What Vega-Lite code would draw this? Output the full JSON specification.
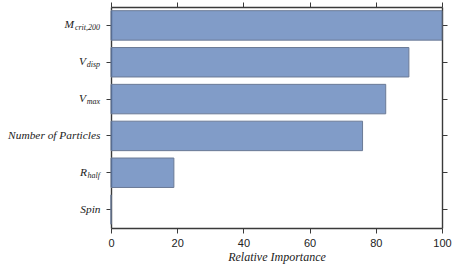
{
  "$schema": "https://vega.github.io/schema/vega-lite/v6.json",
  "autosize": "none",
  "width": 331,
  "height": 221,
  "padding": {"left": 111, "top": 7, "right": 16, "bottom": 45},
  "background": "white",
  "data": {
    "values": [
      {"feature": "Mcrit,200", "main": "M", "sub": "crit,200", "importance": 100},
      {"feature": "Vdisp", "main": "V", "sub": "disp", "importance": 90},
      {"feature": "Vmax", "main": "V", "sub": "max", "importance": 83},
      {"feature": "Number of Particles", "main": "Number of Particles", "sub": "", "importance": 76},
      {"feature": "Rhalf", "main": "R", "sub": "half", "importance": 19},
      {"feature": "Spin", "main": "Spin", "sub": "", "importance": 0}
    ]
  },
  "config": {
    "view": {"stroke": null},
    "axis": {
      "grid": false,
      "domainColor": "#3a3a3a",
      "domainWidth": 1.4,
      "tickColor": "#3a3a3a",
      "tickWidth": 1,
      "tickSize": 5
    }
  },
  "layer": [
    {
      "mark": {"type": "bar", "fill": "#4C72B0", "fillOpacity": 0.7, "stroke": "#6b7a96", "strokeWidth": 1},
      "encoding": {
        "x": {
          "field": "importance", "type": "quantitative",
          "scale": {"domain": [0, 100], "nice": false},
          "axis": {
            "orient": "bottom", "values": [0, 20, 40, 60, 80, 100],
            "title": "Relative Importance",
            "titleFont": "Liberation Serif", "titleFontStyle": "italic", "titleFontWeight": "normal",
            "titleFontSize": 12, "titleColor": "#222", "titlePadding": 3,
            "labelFont": "Liberation Sans", "labelFontSize": 11, "labelColor": "#222", "labelPadding": 4,
            "labelFlush": false
          }
        },
        "y": {
          "field": "feature", "type": "nominal", "sort": null,
          "scale": {"paddingInner": 0.2, "paddingOuter": 0.1},
          "axis": {
            "orient": "left", "title": null,
            "labelFont": "Liberation Serif", "labelFontStyle": "italic", "labelFontSize": 11.4,
            "labelColor": "#222", "labelPadding": 6,
            "labelExpr": "datum.label == 'Number of Particles' || datum.label == 'Spin' ? datum.label : ''"
          }
        }
      }
    },
    {
      "mark": {"type": "bar", "opacity": 0},
      "encoding": {
        "x": {
          "field": "importance", "type": "quantitative",
          "axis": {"orient": "top", "values": [0, 20, 40, 60, 80, 100], "labels": false, "title": null}
        },
        "y": {
          "field": "feature", "type": "nominal", "sort": null,
          "axis": {"orient": "right", "labels": false, "title": null}
        }
      }
    },
    {
      "mark": {"type": "text", "align": "right", "baseline": "middle", "dx": -11, "dy": 3,
               "font": "Liberation Serif", "fontStyle": "italic", "fontSize": 8, "color": "#222"},
      "encoding": {
        "x": {"datum": 0, "type": "quantitative", "axis": null},
        "y": {"field": "feature", "type": "nominal", "sort": null, "axis": null},
        "text": {"field": "sub"}
      }
    },
    {
      "transform": [{"filter": "datum.feature == 'Mcrit,200'"}],
      "mark": {"type": "text", "align": "right", "baseline": "middle", "dx": -37,
               "font": "Liberation Serif", "fontStyle": "italic", "fontSize": 11.4, "color": "#222"},
      "encoding": {
        "x": {"datum": 0, "type": "quantitative", "axis": null},
        "y": {"field": "feature", "type": "nominal", "sort": null, "axis": null},
        "text": {"field": "main"}
      }
    },
    {
      "transform": [{"filter": "datum.feature == 'Vdisp' || datum.feature == 'Vmax'"}],
      "mark": {"type": "text", "align": "right", "baseline": "middle", "dx": -25,
               "font": "Liberation Serif", "fontStyle": "italic", "fontSize": 11.4, "color": "#222"},
      "encoding": {
        "x": {"datum": 0, "type": "quantitative", "axis": null},
        "y": {"field": "feature", "type": "nominal", "sort": null, "axis": null},
        "text": {"field": "main"}
      }
    },
    {
      "transform": [{"filter": "datum.feature == 'Rhalf'"}],
      "mark": {"type": "text", "align": "right", "baseline": "middle", "dx": -24,
               "font": "Liberation Serif", "fontStyle": "italic", "fontSize": 11.4, "color": "#222"},
      "encoding": {
        "x": {"datum": 0, "type": "quantitative", "axis": null},
        "y": {"field": "feature", "type": "nominal", "sort": null, "axis": null},
        "text": {"field": "main"}
      }
    }
  ],
  "resolve": {"axis": {"x": "independent", "y": "independent"}}
}
